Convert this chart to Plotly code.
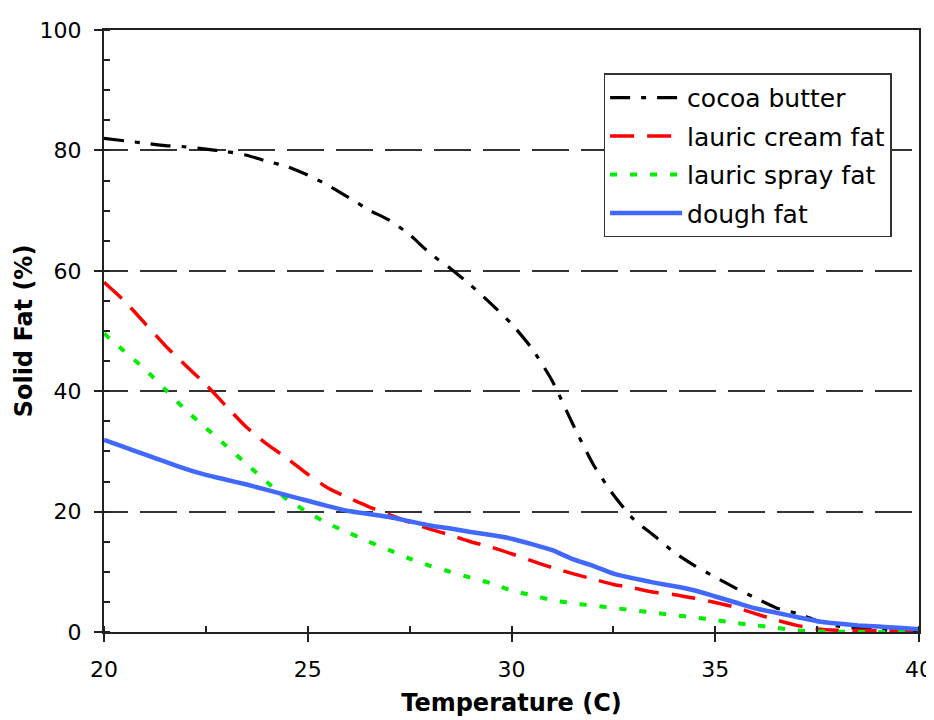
import plotly.graph_objects as go

# Temperature grid (C)
temps = [20, 20.5, 21, 21.5, 22, 22.5, 23, 23.5, 24, 24.5, 25, 25.5, 26, 26.5, 27, 27.5,
         28, 28.5, 29, 29.5, 30, 30.5, 31, 31.5, 32, 32.5, 33, 33.5, 34, 34.5, 35, 35.5,
         36, 36.5, 37, 37.5, 38, 38.5, 39, 39.5, 40]

cocoa_butter = [82.0, 81.6, 81.2, 80.8, 80.6, 80.2, 79.8, 79.2, 78.2, 77.3, 75.9, 74.2,
                72.2, 70.1, 68.4, 66.0, 62.9, 60.4, 57.6, 54.5, 51.2, 47.1, 41.7, 34.6,
                27.9, 22.8, 18.7, 16.0, 13.2, 11.0, 9.1, 7.3, 5.6, 4.0, 3.1, 1.9, 1.0,
                0.6, 0.4, 0.2, 0.1]

lauric_cream = [58.1, 55.0, 51.3, 47.6, 44.3, 41.1, 37.5, 34.0, 31.2, 28.8, 26.2, 23.9,
                22.3, 20.8, 19.5, 18.2, 17.1, 16.1, 15.0, 14.1, 13.0, 11.8, 10.7, 9.7,
                8.8, 7.9, 7.3, 6.6, 6.2, 5.6, 4.9, 4.1, 3.0, 2.0, 1.1, 0.5, 0.3, 0.3,
                0.2, 0.2, 0.1]

lauric_spray = [49.6, 46.6, 43.7, 40.3, 36.9, 33.9, 30.9, 27.9, 24.9, 22.0, 19.9, 18.0,
                16.5, 15.0, 13.6, 12.2, 11.0, 10.0, 9.0, 8.1, 6.9, 6.1, 5.3, 4.75,
                4.4, 4.0, 3.6, 3.2, 2.8, 2.4, 2.0, 1.5, 1.1, 0.7, 0.25, 0.1, 0.05, 0.0,
                0.0, 0.0, 0.0]

dough_fat = [31.9, 30.7, 29.5, 28.3, 27.1, 26.1, 25.3, 24.5, 23.6, 22.7, 21.8, 20.9,
             20.1, 19.6, 19.1, 18.4, 17.7, 17.2, 16.6, 16.1, 15.5, 14.6, 13.6, 12.1,
             11.0, 9.7, 8.9, 8.2, 7.6, 6.9, 5.9, 4.9, 3.9, 3.2, 2.5, 1.8, 1.4, 1.1,
             0.9, 0.7, 0.45]

series_names = ["cocoa butter", "lauric cream fat", "lauric spray fat", "dough fat"]
series_values = [cocoa_butter, lauric_cream, lauric_spray, dough_fat]
series_colors = ["#000000", "#ff0000", "#00ee00", "#4169ff"]
series_widths = [3.2, 3.5, 4, 4.5]
series_dash = ["20px,11px,5px,11px", "24px,13px", "7px,13px", "solid"]

x_ticks = [20, 25, 30, 35, 40]
y_ticks = [0, 20, 40, 60, 80, 100]

FONT = "DejaVu Sans, Arial, sans-serif"
AXC = "#222222"

fig = go.Figure()
for i, (name, vals, col, w, d) in enumerate(zip(series_names, series_values, series_colors,
                                                 series_widths, series_dash)):
    fig.add_trace(go.Scatter(
        x=temps, y=vals, mode="lines", name=name,
        line=dict(color=col, width=w, dash=d, shape="spline", smoothing=0.6),
        legendgroup=f"g{i}",
    ))

grid_dash = "24px,12px," + ",".join(["37px,12px"] * 18)

# page body has an 8px default margin, so the figure is offset by 8px
fig.update_layout(
    width=926, height=720,
    margin=dict(l=96, r=15, t=22, b=96),
    paper_bgcolor="white", plot_bgcolor="white",
    font=dict(family=FONT, color="black", size=22),
    showlegend=True,
    legend=dict(
        x=0.613, y=0.928, xanchor="left", yanchor="top",
        bgcolor="white", bordercolor="#333333", borderwidth=1.5,
        font=dict(family=FONT, size=25, color="black"),
        itemwidth=72, tracegroupgap=3,
    ),
    xaxis=dict(
        range=[20, 40], tickvals=x_ticks, ticktext=[str(v) for v in x_ticks],
        automargin=False, ticklabeloverflow="allow",
        showgrid=False, zeroline=False,
        showline=True, linecolor=AXC, linewidth=2, mirror=True,
        ticks="outside", ticklen=8, tickwidth=1.5, tickcolor=AXC,
        minor=dict(dtick=2.5, tick0=20, ticks="inside", ticklen=6, tickwidth=1.5,
                   tickcolor=AXC, showgrid=False),
        tickfont=dict(family=FONT, size=22, color="black"),
        ticklabelstandoff=9,
        title=dict(text="<b>Temperature (C)</b>", standoff=13,
                   font=dict(family=FONT, size=24, color="black")),
    ),
    yaxis=dict(
        range=[0, 100], tickvals=y_ticks, ticktext=[str(v) for v in y_ticks],
        automargin=False,
        showgrid=True, gridcolor="#333333", gridwidth=1.5, griddash=grid_dash,
        zeroline=False,
        showline=True, linecolor=AXC, linewidth=2, mirror=True,
        ticks="outside", ticklen=8, tickwidth=1.5, tickcolor=AXC,
        minor=dict(dtick=5, tick0=0, ticks="inside", ticklen=6, tickwidth=1.5,
                   tickcolor=AXC, showgrid=False),
        tickfont=dict(family=FONT, size=22, color="black"),
        ticklabelstandoff=8,
        title=dict(text="<b>Solid Fat (%)</b>", standoff=0,
                   font=dict(family=FONT, size=24, color="black")),
    ),
)

fig.write_html("out.html")
